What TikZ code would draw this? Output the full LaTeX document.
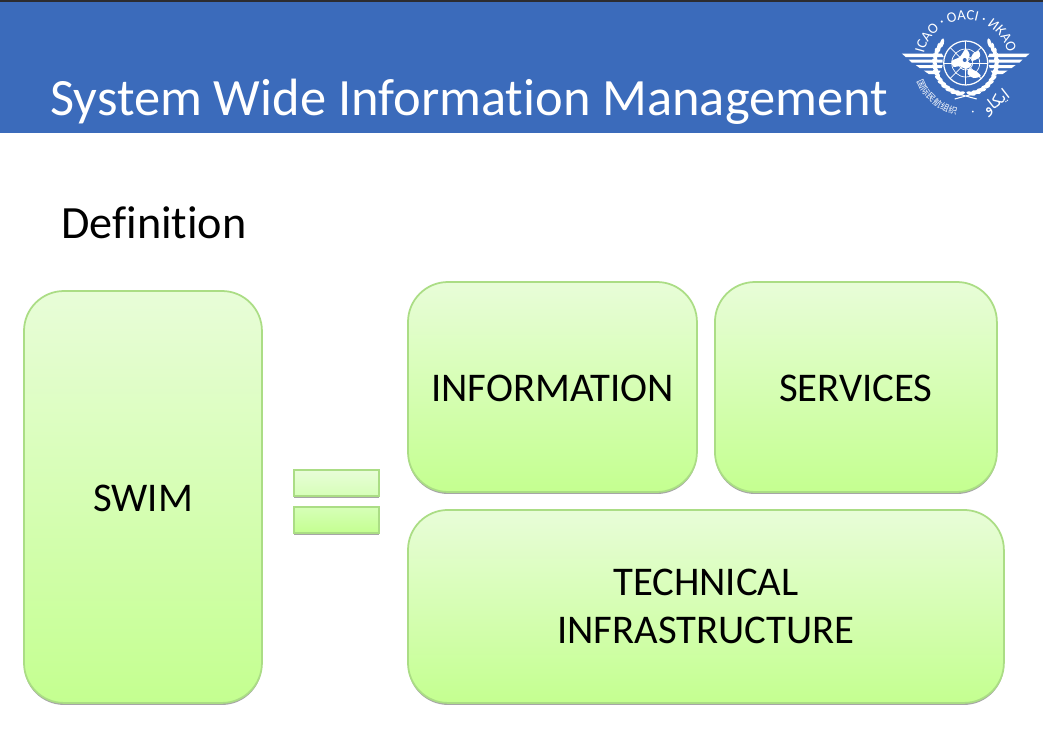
\documentclass[tikz,border=0pt]{standalone}
\usepackage{fontspec}
\setmainfont[Ligatures=NoCommon]{Carlito}
\newfontfamily\cjkfont{Noto Sans CJK SC}
\newfontfamily\arabicfont[Script=Arabic]{DejaVu Sans}
\TeXXeTstate=1
\usetikzlibrary{positioning, shadows, shapes.geometric, decorations.text}
\definecolor{headblue}{HTML}{3B6BBB}
\definecolor{headdark}{HTML}{2C2C30}
\definecolor{boxedge}{HTML}{ABDD85}
\definecolor{boxlight}{HTML}{E8FDD8}
\definecolor{boxmid}{HTML}{D6FFB8}
\definecolor{boxdark}{HTML}{C4FF90}
\tikzset{
  greenbox/.style={draw=boxedge, line width=1pt, rounded corners=0.8cm, outer sep=0pt, inner sep=0pt,
    top color=boxlight, middle color=boxmid, bottom color=boxdark, align=center,
    font=\fontsize{23.2}{27.2}\selectfont, execute at begin node={\rule{0pt}{0.74em}},
    drop shadow={shadow xshift=0pt, shadow yshift=-0.04cm, opacity=0.35, fill=black}},
  eqbar/.style={draw=boxedge, line width=0.8pt, outer sep=0pt, minimum width=1.7cm, minimum height=0.52cm,
    drop shadow={shadow xshift=0pt, shadow yshift=-0.04cm, opacity=0.35, fill=black}},
  logoline/.style={draw=white, line width=0.4pt},
  leaf/.style={fill=white, ellipse, inner sep=0pt, minimum width=5.5pt, minimum height=2.2pt}
}
\begin{document}
\begin{tikzpicture}[x=0.02cm, y=-0.02cm]
  \useasboundingbox (0,0) rectangle (1043,754);
  \fill[white] (0,0) rectangle (1043,754);
  \fill[headblue] (0,0) rectangle (1043,133);
  \fill[headdark] (0,0) rectangle (1043,2);

  \node[anchor=base west, inner sep=0pt, text=white, font=\fontsize{29.85}{34}\selectfont] (title) at (50,115) {System Wide Information Management};
  \node[anchor=base west, inner sep=0pt, font=\fontsize{26.3}{30}\selectfont] (definition) at (61,238) {Definition};

  \node[greenbox, minimum width=4.76cm, minimum height=8.24cm, anchor=north west] (swim) at (24,291) {SWIM};
  \node[greenbox, minimum width=5.78cm, minimum height=4.2cm, anchor=north west] (information) at (408,282) {INFORMATION};
  \node[greenbox, minimum width=5.64cm, minimum height=4.2cm, right=0.36cm of information] (services) {SERVICES};
  \node[greenbox, minimum width=11.92cm, minimum height=3.86cm, below=0.36cm of information.south west, anchor=north west] (technical) {TECHNICAL\\INFRASTRUCTURE};

  \node[eqbar, top color=boxlight, bottom color=boxmid, anchor=north west] (eqtop) at (294,470) {};
  \node[eqbar, top color=boxmid, bottom color=boxdark, below=0.22cm of eqtop] (eqbottom) {};

  % logo
  \begin{scope}[shift={(965.7,63)}, x=0.02cm, y=0.02cm]
    \foreach \a in {140,150,...,260} {
      \node[leaf, rotate=\a+90+25] (leafl\a) at (\a:31) {};
      \node[leaf, rotate=-\a+90-25] (leafr\a) at (180-\a:31) {};
    }
    \draw[logoline, line width=0.7pt] (0,0) circle (22);
    \foreach \r in {7,14} \draw[logoline] (0,0) circle (\r);
    \foreach \a in {0,45,...,315} \draw[logoline] (0,0) -- (\a:22);
    \fill[white] plot[smooth cycle] coordinates {(-14,2) (-6,6) (0,14) (4,8) (2,2) (6,-2) (0,-6) (-6,-3) (-12,-4)};
    \fill[white] plot[smooth cycle] coordinates {(3,-6) (10,-8) (15,-13) (8,-15) (2,-11)};
    \fill[white] plot[smooth cycle] coordinates {(6,2) (14,6) (13,12) (7,9)};
    \fill[headblue] (-1,3) circle (2);
    \foreach \s in {1,-1} {
      \begin{scope}[xscale=\s]
        \fill[white] (64,9.5) -- (24,9.5) -- (22,6) -- (60,6) -- cycle;
        \fill[white] (57,3.5) -- (23,3.5) -- (23,0.5) -- (54,0.5) -- cycle;
        \fill[white] (50,-2) -- (23,-2) -- (24,-5) -- (46,-5) -- cycle;
        \fill[white] (42,-7.5) -- (25,-7.5) -- (27,-11) -- (37,-11) -- cycle;
      \end{scope}
    }
    \draw[white, line width=0.6pt] (-11,-30) -- (11,-36) (11,-30) -- (-11,-36);
    \path[postaction={decorate, decoration={text along path, text align=center,
      text={|\color{white}\fontsize{8.3}{9}\selectfont|ICAO · OACI · ИКАО}}}]
      (165:43) arc (165:15:43);
    \foreach \ch [count=\i] in {国,际,民,航,组,织} {
      \node[text=white, inner sep=0pt, font=\cjkfont\fontsize{5}{6}\selectfont, rotate=195+\i*10+90] (cn\i) at (195+\i*10:49) {\ch};
    }
    \node[text=white, inner sep=0pt, font=\fontsize{7}{8}\selectfont] (dot) at (-82:51) {·};
    \node[text=white, inner sep=0pt, rotate=38, font=\arabicfont\fontsize{9}{10}\selectfont] (arabic) at (-52:50) {\beginR ايكاو\endR};
  \end{scope}
\end{tikzpicture}
\end{document}
